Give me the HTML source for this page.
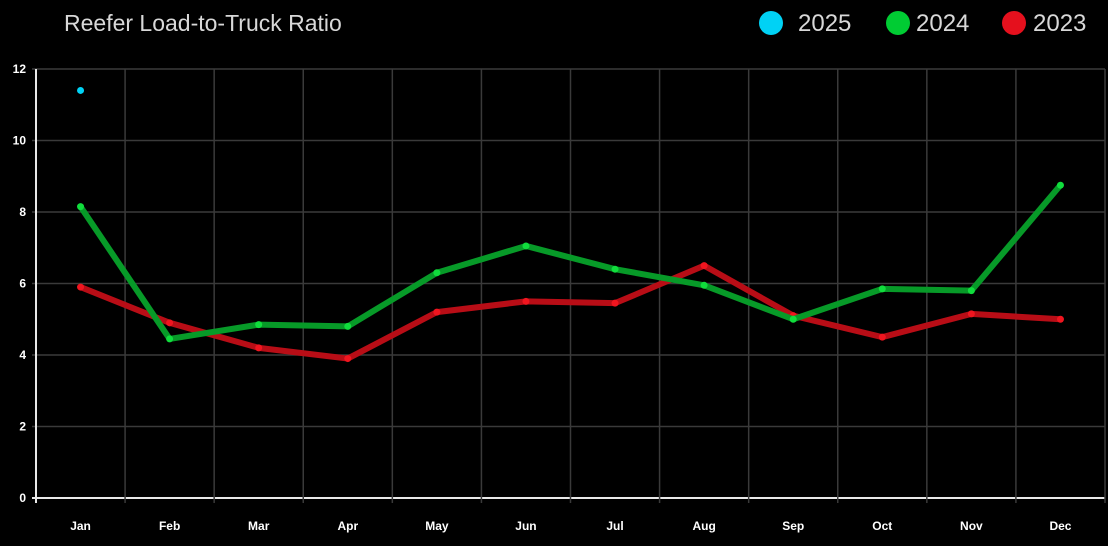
<!DOCTYPE html>
<html><head><meta charset="utf-8"><style>
html,body{margin:0;padding:0;background:#000;width:1108px;height:546px;overflow:hidden}
svg{display:block;font-family:"Liberation Sans",sans-serif}
</style></head><body>
<svg id="chart" width="1108" height="546">
<text x="64" y="31" font-size="23" fill="#d8d8d8">Reefer Load-to-Truck Ratio</text>
<g>
<g><circle cx="771" cy="23" r="12" fill="#00d2f5"/><text x="798" y="31" font-size="24" fill="#d8d8d8">2025</text></g>
<g><circle cx="898" cy="23" r="12" fill="#00cc33"/><text x="916" y="31" font-size="24" fill="#d8d8d8">2024</text></g>
<g><circle cx="1014" cy="23" r="12" fill="#e5101d"/><text x="1033" y="31" font-size="24" fill="#d8d8d8">2023</text></g>
</g>
<g id="grid"></g>
<g id="axes"></g>
<g id="series"></g>
</svg>
<script>
const months=["Jan","Feb","Mar","Apr","May","Jun","Jul","Aug","Sep","Oct","Nov","Dec"];
const yTicks=[0,2,4,6,8,10,12];
const s2025=[11.4];
const s2024=[8.15,4.45,4.85,4.8,6.3,7.05,6.4,5.95,5.0,5.85,5.8,8.75];
const s2023=[5.9,4.9,4.2,3.9,5.2,5.5,5.45,6.5,5.1,4.5,5.15,5.0];
{
const NS="http://www.w3.org/2000/svg";
const plotL=36,plotR=1105,plotT=69,plotB=498;
const step=(plotR-plotL)/12;
const xs=i=>plotL+step*(i+0.5);
const ys=v=>plotB-(v-0)/(12-0)*(plotB-plotT);
function mk(t,a,p){const e=document.createElementNS(NS,t);for(const k in a)e.setAttribute(k,a[k]);p.appendChild(e);return e;}
const grid=document.getElementById('grid'),axes=document.getElementById('axes'),series=document.getElementById('series');
yTicks.forEach(v=>{
  const l=mk('line',{x1:plotL-4,x2:plotR,y1:ys(v),y2:ys(v),stroke:v===0?'#e8e8e8':'#3a3a3a','stroke-width':v===0?2:1.5},grid);
  
  
  const t=mk('text',{x:26,y:ys(v)+4,'font-size':12,'font-weight':'bold',fill:'#fff','text-anchor':'end'},axes);
  t.textContent=v;
  
  
});
for(let i=0;i<=12;i++){
  const l=mk('line',{x1:plotL+step*i,x2:plotL+step*i,y1:plotT,y2:plotB+5,stroke:i===0?'#e8e8e8':'#3a3a3a','stroke-width':i===0?2:1.5},grid);
  
  
}
months.forEach((m,i)=>{
  const t=mk('text',{x:xs(i),y:530,'font-size':12,'font-weight':'bold',fill:'#fff','text-anchor':'middle'},axes);
  t.textContent=m;
  
  
});
function drawSeries(data,lineC,dotC,name){
  const g=mk('g',{},series);
  
  
  if(data.length>1){
    const p=mk('polyline',{points:data.map((v,i)=>xs(i)+','+ys(v)).join(' '),fill:'none',stroke:lineC,'stroke-width':6,'stroke-linejoin':'round','stroke-linecap':'round'},g);
    
    
  }
  data.forEach((v,i)=>{
    const c=mk('circle',{cx:xs(i),cy:ys(v),r:3.5,fill:dotC},g);
    
    
  });
}
drawSeries(s2023,'#b80d16','#f0151f','2023');
drawSeries(s2024,'#079a28','#10dd3c','2024');
drawSeries(s2025,'#00d2f5','#00d2f5','2025');
}
</script>
</body></html>
